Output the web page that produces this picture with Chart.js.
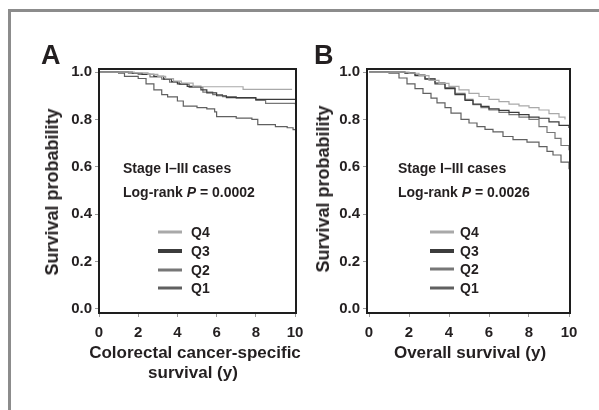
<!DOCTYPE html>
<html>
<head>
<meta charset="utf-8">
<script src="https://cdn.jsdelivr.net/npm/chart.js@4.4.1/dist/chart.umd.min.js"></script>
<style>
  html, body { margin: 0; padding: 0; background: #fff; }
  body { width: 599px; height: 410px; position: relative; overflow: hidden;
         font-family: "Liberation Sans", Arial, Helvetica, sans-serif; color: #231f20; }
  .frame { position: absolute; left: 8px; top: 9px; width: 700px; height: 500px;
           border-left: 3px solid #8c8c8c; border-top: 3px solid #8c8c8c; }
  canvas { position: absolute; top: 0; }
  .t { position: absolute; font-weight: bold; white-space: nowrap; line-height: 1; }
  .panel { font-size: 27px; }
  .ytitle { font-size: 18px; transform: translate(-50%, -50%) rotate(-90deg); }
  .xtitle { font-size: 17px; transform: translate(-50%, -50%); text-align: center; }
  .note { font-size: 14px; transform: translateY(-50%); }
  .leg { font-size: 14px; transform: translateY(-50%); }
  .legline { position: absolute; height: 3px; width: 24px; transform: translateY(-50%); }
</style>
</head>
<body>
<div class="frame"></div>
<canvas id="cA" width="320" height="410" style="left:0px;width:320px;height:410px"></canvas>
<canvas id="cB" width="299" height="410" style="left:300px;width:299px;height:410px"></canvas>

<div class="t panel" style="left:41px;top:42px;">A</div>
<div class="t panel" style="left:314px;top:42px;">B</div>

<div class="t ytitle" style="left:52px;top:192px;">Survival probability</div>
<div class="t ytitle" style="left:323px;top:189px;">Survival probability</div>

<div class="t xtitle" style="left:195px;top:352px;">Colorectal cancer-specific</div>
<div class="t xtitle" style="left:193px;top:372px;">survival (y)</div>
<div class="t xtitle" style="left:470px;top:352px;">Overall survival (y)</div>

<div class="t note" style="left:123px;top:168px;">Stage I–III cases</div>
<div class="t note" style="left:123px;top:192px;">Log-rank <i>P</i> = 0.0002</div>
<div class="t note" style="left:398px;top:168px;">Stage I–III cases</div>
<div class="t note" style="left:398px;top:192px;">Log-rank <i>P</i> = 0.0026</div>

<div id="legA"></div>
<div id="legB"></div>

<script>
// ---- Categories / labels ----
const seriesNames = ["Q4", "Q3", "Q2", "Q1"];
const seriesColors = ["#a9a9a9", "#3c3c3c", "#777777", "#606060"];
const yTickValues = [0, 0.2, 0.4, 0.6, 0.8, 1.0];
const xTickValues = [0, 2, 4, 6, 8, 10];

// ---- Panel A: colorectal cancer-specific survival ----
const aQ4Time = [0, 1.8, 2.5, 3.0, 3.4, 3.8, 4.2, 4.8, 7.35, 9.85];
const aQ4Surv = [1, 0.997, 0.99, 0.982, 0.972, 0.962, 0.953, 0.938, 0.927, 0.927];
const aQ3Time = [0, 1.7, 2.2, 2.8, 3.3, 3.7, 4.0, 4.5, 5.2, 5.5, 6.0, 6.5, 8.0, 10];
const aQ3Surv = [1, 0.995, 0.99, 0.982, 0.97, 0.96, 0.95, 0.94, 0.925, 0.912, 0.90, 0.892, 0.885, 0.885];
const aQ2Time = [0, 1.5, 2.0, 2.6, 3.2, 3.6, 4.1, 4.6, 5.3, 5.8, 6.3, 7.0, 8.0, 8.5, 10];
const aQ2Surv = [1, 0.995, 0.99, 0.98, 0.97, 0.958, 0.948, 0.935, 0.915, 0.905, 0.896, 0.89, 0.88, 0.868, 0.864];
const aQ1Time = [0, 1.0, 1.3, 2.0, 2.4, 2.8, 3.2, 3.5, 4.0, 4.3, 5.0, 5.5, 5.9, 6.0, 7.0, 7.8, 8.1, 9.0, 9.6, 9.9, 10];
const aQ1Surv = [1, 0.995, 0.982, 0.973, 0.95, 0.925, 0.905, 0.895, 0.878, 0.856, 0.85, 0.845, 0.832, 0.812, 0.806, 0.80, 0.778, 0.77, 0.765, 0.757, 0.755];

// ---- Panel B: overall survival ----
const bQ4Time = [0, 2.0, 2.5, 3.0, 3.5, 4.0, 4.5, 5.0, 5.5, 6.0, 6.5, 7.0, 7.5, 8.0, 8.5, 9.0, 9.5, 9.8];
const bQ4Surv = [1, 0.995, 0.985, 0.965, 0.952, 0.94, 0.925, 0.91, 0.897, 0.885, 0.875, 0.865, 0.857, 0.85, 0.84, 0.825, 0.81, 0.80];
const bQ3Time = [0, 1.8, 2.3, 2.8, 3.3, 3.8, 4.3, 4.8, 5.2, 5.6, 6.0, 6.5, 7.0, 7.5, 8.0, 8.5, 9.0, 9.5, 10];
const bQ3Surv = [1, 0.995, 0.985, 0.97, 0.95, 0.93, 0.905, 0.88, 0.865, 0.855, 0.845, 0.838, 0.83, 0.82, 0.81, 0.805, 0.79, 0.775, 0.764];
const bQ2Time = [0, 1.8, 2.3, 2.8, 3.3, 3.8, 4.3, 4.8, 5.2, 5.6, 6.0, 6.5, 7.0, 7.5, 8.0, 8.5, 8.9, 9.3, 9.6, 10];
const bQ2Surv = [1, 0.997, 0.988, 0.972, 0.955, 0.935, 0.91, 0.885, 0.862, 0.85, 0.84, 0.83, 0.82, 0.81, 0.80, 0.77, 0.745, 0.72, 0.69, 0.67];
const bQ1Time = [0, 1.0, 1.5, 1.9, 2.3, 2.7, 3.1, 3.4, 3.8, 4.1, 4.6, 5.0, 5.4, 5.8, 6.2, 6.7, 7.2, 7.9, 8.5, 8.9, 9.2, 9.6, 10];
const bQ1Surv = [1, 0.995, 0.975, 0.95, 0.93, 0.91, 0.89, 0.87, 0.85, 0.827, 0.80, 0.785, 0.77, 0.758, 0.748, 0.728, 0.715, 0.704, 0.685, 0.665, 0.65, 0.62, 0.59];

function pts(t, s) { return t.map((v, i) => ({ x: v, y: s[i] })); }

const FONT = "'Liberation Sans', Arial, Helvetica, sans-serif";

const framePlugin = {
  id: 'frame',
  afterDatasetsDraw(chart) {
    const a = chart.chartArea, ctx = chart.ctx;
    ctx.save();
    ctx.strokeStyle = '#1e1e1e';
    ctx.lineWidth = 2;
    ctx.strokeRect(a.left, a.top, a.right - a.left, a.bottom - a.top);
    ctx.restore();
  }
};

function makeChart(id, sets, xmin, yAxisWidth, padRight) {
  const datasets = sets.map((d, i) => ({
    label: seriesNames[i],
    data: pts(d[0], d[1]),
    borderColor: seriesColors[i],
    borderWidth: 1.2,
    pointRadius: 0,
    stepped: true,
    fill: false
  }));
  return new Chart(document.getElementById(id), {
    type: 'line',
    data: { datasets },
    plugins: [framePlugin],
    options: {
      responsive: false,
      animation: false,
      events: [],
      layout: { padding: { left: 0, top: 69, right: padRight, bottom: 0 } },
      plugins: { legend: { display: false }, tooltip: { enabled: false } },
      scales: {
        x: {
          type: 'linear', min: xmin, max: 10.05,
          afterBuildTicks: s => { s.ticks = xTickValues.map(v => ({ value: v })); },
          afterFit: s => { s.height = 97; },
          grid: { drawOnChartArea: false, drawTicks: true, tickLength: 4, color: '#9a9a9a' },
          border: { display: false },
          ticks: { color: '#231f20', padding: 7, maxRotation: 0,
                   font: { family: FONT, size: 15, weight: 'bold' },
                   callback: v => String(v) }
        },
        y: {
          type: 'linear', min: -0.017, max: 1.013,
          afterBuildTicks: s => { s.ticks = yTickValues.map(v => ({ value: v })); },
          afterFit: s => { s.width = yAxisWidth; },
          grid: { drawOnChartArea: false, drawTicks: true, tickLength: 4, color: '#9a9a9a' },
          border: { display: false },
          ticks: { color: '#231f20', padding: 3,
                   font: { family: FONT, size: 15, weight: 'bold' },
                   callback: v => Number(v).toFixed(1) }
        }
      }
    }
  });
}

makeChart('cA', [[aQ4Time, aQ4Surv], [aQ3Time, aQ3Surv], [aQ2Time, aQ2Surv], [aQ1Time, aQ1Surv]], 0, 99, 24);
makeChart('cB', [[bQ4Time, bQ4Surv], [bQ3Time, bQ3Surv], [bQ2Time, bQ2Surv], [bQ1Time, bQ1Surv]], -0.1, 67, 29);

// legends (inside plot)
function legend(containerId, lineX, textX, ys) {
  const c = document.getElementById(containerId);
  seriesNames.forEach((n, i) => {
    const l = document.createElement('div');
    l.className = 'legline';
    l.style.left = lineX + 'px'; l.style.top = ys[i] + 'px';
    l.style.background = seriesColors[i];
    if (i === 1) l.style.height = '4px';
    c.appendChild(l);
    const t = document.createElement('div');
    t.className = 't leg';
    t.style.left = textX + 'px'; t.style.top = ys[i] + 'px';
    t.textContent = n;
    c.appendChild(t);
  });
}
legend('legA', 158, 191, [232, 251, 270, 288]);
legend('legB', 430, 460, [232, 251, 269, 288]);
</script>
</body>
</html>
